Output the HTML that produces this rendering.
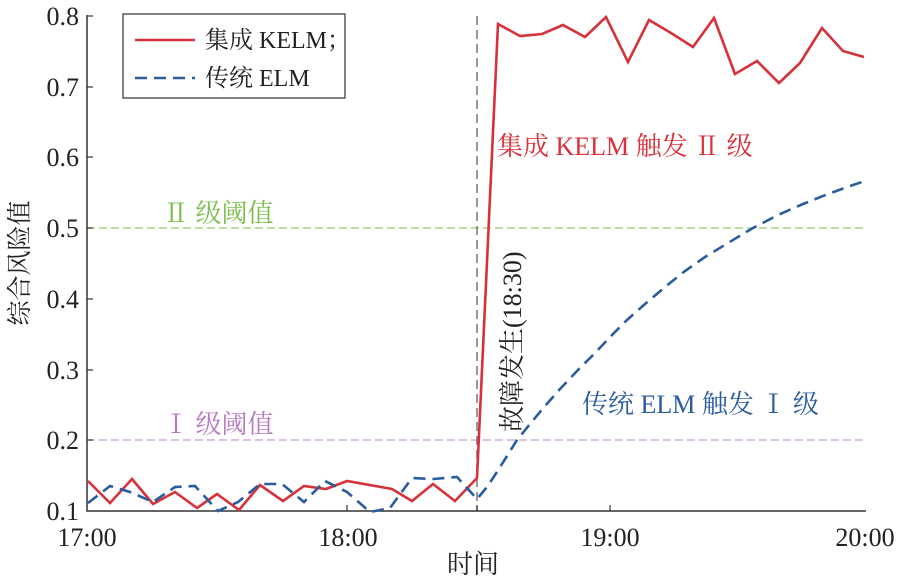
<!DOCTYPE html>
<html><head><meta charset="utf-8"><style>
body{margin:0;background:#fff;}
text{font-family:"Liberation Serif","Noto Serif CJK SC",serif;}
</style></head><body>
<svg width="901" height="578" viewBox="0 0 901 578" xmlns="http://www.w3.org/2000/svg">
<rect width="901" height="578" fill="#fff"/>
<line x1="87" y1="228" x2="865" y2="228" stroke="#9acb6a" stroke-width="1.3" stroke-dasharray="8,4"/>
<line x1="87" y1="440" x2="865" y2="440" stroke="#c89ad0" stroke-width="1.3" stroke-dasharray="8,4"/>
<line x1="477" y1="16" x2="477" y2="511" stroke="#777" stroke-width="1.5" stroke-dasharray="9,5"/>
<polyline points="87,15 87,511 866,511" fill="none" stroke="#333" stroke-width="1.5"/>
<g stroke="#333" stroke-width="1.2">
<line x1="87" y1="16" x2="93" y2="16"/><line x1="87" y1="87" x2="93" y2="87"/><line x1="87" y1="157" x2="93" y2="157"/><line x1="87" y1="228" x2="93" y2="228"/><line x1="87" y1="299" x2="93" y2="299"/><line x1="87" y1="370" x2="93" y2="370"/><line x1="87" y1="440" x2="93" y2="440"/>
<line x1="347" y1="511" x2="347" y2="505"/><line x1="477" y1="511" x2="477" y2="505"/><line x1="610" y1="511" x2="610" y2="505"/>
</g>
<g font-size="26" fill="#222" text-anchor="end">
<text x="79" y="25">0.8</text><text x="79" y="96">0.7</text><text x="79" y="166">0.6</text><text x="79" y="237">0.5</text><text x="79" y="308">0.4</text><text x="79" y="379">0.3</text><text x="79" y="449">0.2</text><text x="79" y="520">0.1</text>
</g>
<g font-size="26" fill="#222" text-anchor="middle">
<text x="87" y="546">17:00</text><text x="348" y="546">18:00</text><text x="610" y="546">19:00</text><text x="865" y="546">20:00</text>
<text x="473" y="573">时间</text>
</g>
<text transform="translate(28,263) rotate(-90)" font-size="25" fill="#222" text-anchor="middle">综合风险值</text>
<polyline fill="none" stroke="#d7313a" stroke-width="2.6" points="88,481 110,503 132,479 153,504 175,492 197,508 217,494 239,510 260,485 283,501 304,486 326,489 347,481 392,489 412,501 433,484 455,501 477,478 498,24 520,36 542,34 563,25 585,37 606,17 628,62 649,20 671,33 693,47 714,18 735,74 757,61 779,83 800,63 822,28 843,51 864,57"/>
<polyline fill="none" stroke="#2b5c9e" stroke-width="2.6" stroke-dasharray="12,7" points="88,503 110,486 130,492 153,502 175,487 195,486 218,511 238,502 260,484 282,484 304,502 325,481 347,492 370,512 390,508 412,478 433,479 457,477 477,499 487,487 497,472 507,456 517,440 530,424 545,406 560,389 577,371 595,353 612,335 627,320 645,304 665,287 685,271 705,257 728,243 753,228 778,215 803,204 828,194 850,186 865,181"/>
<text x="497" y="155" font-size="26" fill="#d7313a">集成 KELM 触发 Ⅱ 级</text>
<text x="163" y="222" font-size="26" fill="#7cbf4e">Ⅱ 级阈值</text>
<text x="163" y="433" font-size="26" fill="#b77ac4">Ⅰ 级阈值</text>
<text x="582" y="413" font-size="26" fill="#2b5c9e">传统 ELM 触发 Ⅰ 级</text>
<text transform="translate(521,432) rotate(-90)" font-size="26" fill="#222">故障发生(18:30)</text>
<rect x="123" y="14" width="222" height="84" fill="#fff" stroke="#333" stroke-width="1.2"/>
<line x1="135" y1="40" x2="195" y2="40" stroke="#d7313a" stroke-width="2.6"/>
<line x1="135" y1="78" x2="195" y2="78" stroke="#2b5c9e" stroke-width="2.6" stroke-dasharray="12,7"/>
<text x="205" y="48" font-size="24" fill="#222">集成 KELM；</text>
<text x="205" y="86" font-size="24" fill="#222">传统 ELM</text>
</svg>
</body></html>
